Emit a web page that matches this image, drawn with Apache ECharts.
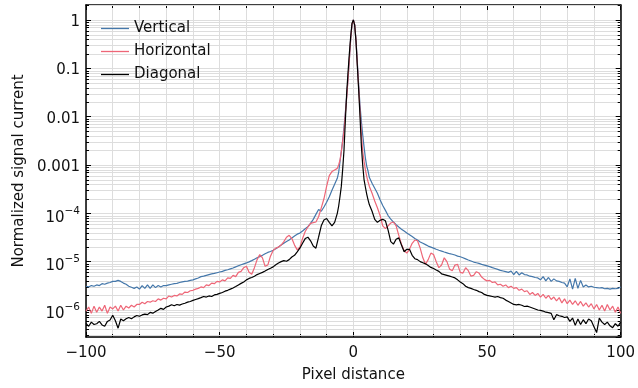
<!DOCTYPE html>
<html><head><meta charset="utf-8">
<script src="https://cdn.jsdelivr.net/npm/echarts@6/dist/echarts.min.js"></script>
<style>html,body{margin:0;padding:0;background:#fff}#c{width:638px;height:388px}</style>
</head><body><div id="c"></div>
<script>
// x positions (pixel distance)
const xs = [-100,-99,-98,-97,-96,-95,-94,-93,-92,-91,-90,-89,-88,-87,-86,-85,-84,-83,-82,-81,
-80,-79,-78,-77,-76,-75,-74,-73,-72,-71,-70,-69,-68,-67,-66,-65,-64,-63,-62,-61,
-60,-59,-58,-57,-56,-55,-54,-53,-52,-51,-50,-49,-48,-47,-46,-45,-44,-43,-42,-41,
-40,-39,-38,-37,-36,-35,-34,-33,-32,-31,-30,-29,-28,-27,-26,-25,-24,-23,-22,-21,
-20,-19,-18,-17,-16,-15,-14,-13,-12,-11,-10,-9,-8,-7,-6,
-5.5,-5,-4.5,-4,-3.5,-3,-2.5,-2,-1.5,-1,-0.5,0,0.5,1,1.5,2,2.5,3,3.5,4,4.5,5,5.5,
6,7,8,9,10,11,12,13,14,15,16,17,18,19,20,21,22,23,24,25,26,27,28,29,30,
31,32,33,34,35,36,37,38,39,40,41,42,43,44,45,46,47,48,49,50,
51,52,53,54,55,56,57,58,59,60,61,62,63,64,65,66,67,68,69,70,
71,72,73,74,75,76,77,78,79,80,81,82,83,84,85,86,87,88,89,90,
91,92,93,94,95,96,97,98,99,100];

const vertical = [
3.1e-6,3.0e-6,3.2e-6,3.1e-6,3.3e-6,3.2e-6,3.5e-6,3.4e-6,3.6e-6,3.7e-6,
3.9e-6,3.9e-6,4.1e-6,3.9e-6,3.6e-6,3.4e-6,3.1e-6,2.95e-6,2.8e-6,3.0e-6,
2.7e-6,3.2e-6,2.8e-6,3.3e-6,2.8e-6,3.3e-6,2.9e-6,3.2e-6,3.0e-6,3.2e-6,
3.2e-6,3.3e-6,3.4e-6,3.5e-6,3.55e-6,3.7e-6,3.8e-6,3.9e-6,3.95e-6,4.1e-6,
4.2e-6,4.4e-6,4.6e-6,4.9e-6,5.0e-6,5.2e-6,5.4e-6,5.6e-6,5.7e-6,5.9e-6,
6.1e-6,6.3e-6,6.6e-6,6.8e-6,7.1e-6,7.4e-6,7.8e-6,8.2e-6,8.6e-6,9.0e-6,
9.4e-6,9.9e-6,1.05e-5,1.12e-5,1.2e-5,1.27e-5,1.35e-5,1.45e-5,1.55e-5,1.62e-5,
1.72e-5,1.85e-5,2.0e-5,2.2e-5,2.4e-5,2.6e-5,2.8e-5,3.1e-5,3.4e-5,3.7e-5,
3.9e-5,4.3e-5,4.8e-5,5.3e-5,6.2e-5,7.5e-5,9.5e-5,1.2e-4,1.1e-4,1.35e-4,
1.7e-4,2.2e-4,3.0e-4,4.0e-4,5.3e-4,
7e-4,1.15e-3,1.9e-3,3.2e-3,6e-3,0.012,0.026,0.06,0.15,0.4,0.82,1.0,0.8,0.38,0.13,0.045,0.017,0.008,0.0042,0.0024,0.0014,9.5e-4,7.5e-4,
5.5e-4,4.2e-4,3.3e-4,2.6e-4,1.9e-4,
1.45e-4,1.15e-4,9.0e-5,7.6e-5,6.6e-5,5.8e-5,5.2e-5,4.7e-5,4.3e-5,3.9e-5,
3.6e-5,3.3e-5,3.0e-5,2.8e-5,2.55e-5,2.4e-5,2.25e-5,2.1e-5,2.0e-5,1.9e-5,
1.8e-5,1.72e-5,1.65e-5,1.58e-5,1.52e-5,1.46e-5,1.42e-5,1.37e-5,1.3e-5,1.26e-5,
1.2e-5,1.14e-5,1.08e-5,1.03e-5,9.8e-6,9.5e-6,9.2e-6,8.8e-6,8.5e-6,8.2e-6,
7.9e-6,7.5e-6,7.2e-6,6.9e-6,6.6e-6,6.4e-6,6.2e-6,6.0e-6,6.4e-6,5.4e-6,
6.3e-6,5.3e-6,5.9e-6,5.4e-6,5.3e-6,5.0e-6,4.9e-6,4.7e-6,4.6e-6,4.2e-6,
4.9e-6,4.0e-6,4.7e-6,3.9e-6,4.4e-6,4.0e-6,3.9e-6,3.7e-6,3.6e-6,3.0e-6,
4.4e-6,2.7e-6,4.5e-6,2.8e-6,4.1e-6,3.0e-6,3.3e-6,3.0e-6,3.1e-6,2.95e-6,
2.9e-6,2.85e-6,2.9e-6,2.75e-6,2.8e-6,2.7e-6,2.8e-6,2.75e-6,2.8e-6,3.0e-6];

const horizontal = [
0.95e-6,1.15e-6,0.85e-6,1.2e-6,0.9e-6,1.15e-6,0.95e-6,1.25e-6,0.85e-6,1.15e-6,
1.05e-6,1.2e-6,0.95e-6,1.25e-6,1.0e-6,1.2e-6,1.1e-6,1.25e-6,1.15e-6,1.3e-6,
1.3e-6,1.45e-6,1.35e-6,1.5e-6,1.45e-6,1.55e-6,1.5e-6,1.7e-6,1.6e-6,1.75e-6,
1.7e-6,1.95e-6,1.85e-6,2.0e-6,1.95e-6,2.15e-6,2.1e-6,2.35e-6,2.3e-6,2.5e-6,
2.55e-6,2.7e-6,2.8e-6,3.0e-6,2.9e-6,3.3e-6,3.2e-6,3.6e-6,3.5e-6,3.9e-6,
3.8e-6,4.2e-6,4.0e-6,4.6e-6,4.5e-6,5.2e-6,4.9e-6,6.0e-6,6.3e-6,7.5e-6,
8.0e-6,6.0e-6,5.5e-6,7.5e-6,1.1e-5,1.4e-5,1.2e-5,8.0e-6,8.5e-6,1.3e-5,
1.7e-5,1.9e-5,2.0e-5,2.2e-5,2.6e-5,3.2e-5,3.5e-5,3.0e-5,2.2e-5,1.75e-5,
2.0e-5,3.0e-5,4.2e-5,5.2e-5,6.2e-5,6.4e-5,6.6e-5,8.5e-5,1.3e-4,2.0e-4,
3.6e-4,6.0e-4,7.3e-4,7.9e-4,8.5e-4,
1.0e-3,1.25e-3,1.9e-3,3.1e-3,5e-3,0.011,0.024,0.058,0.15,0.4,0.82,1.0,0.8,0.38,0.12,0.04,0.013,0.0045,0.0019,0.0012,8e-4,5.8e-4,4.5e-4,
3.6e-4,2.6e-4,1.8e-4,1.3e-4,9.0e-5,
5.5e-5,4.8e-5,5.5e-5,6.3e-5,6.6e-5,5.5e-5,3.5e-5,2.3e-5,1.7e-5,1.5e-5,
1.8e-5,2.4e-5,2.8e-5,2.7e-5,1.9e-5,1.2e-5,8.8e-6,1.1e-5,1.5e-5,1.4e-5,
1.0e-5,7.5e-6,8.5e-6,1.2e-5,1.0e-5,7.0e-6,6.5e-6,8.5e-6,8.8e-6,6.0e-6,
5.8e-6,7.5e-6,6.5e-6,5.0e-6,5.2e-6,6.2e-6,5.8e-6,4.8e-6,4.3e-6,4.0e-6,
4.1e-6,3.7e-6,3.8e-6,3.3e-6,3.4e-6,3.1e-6,3.3e-6,2.9e-6,3.1e-6,2.8e-6,
2.9e-6,2.55e-6,2.7e-6,2.4e-6,2.5e-6,2.1e-6,2.3e-6,2.0e-6,2.2e-6,1.85e-6,
2.1e-6,1.75e-6,2.0e-6,1.65e-6,1.85e-6,1.55e-6,1.8e-6,1.4e-6,1.7e-6,1.35e-6,
1.6e-6,1.3e-6,1.55e-6,1.25e-6,1.5e-6,1.2e-6,1.4e-6,1.15e-6,1.35e-6,1.05e-6,
1.3e-6,1.0e-6,1.25e-6,0.95e-6,1.3e-6,1.0e-6,1.2e-6,0.9e-6,1.15e-6,0.85e-6];

const diagonal = [
5.3e-7,4.6e-7,5.6e-7,5.0e-7,5.2e-7,5.8e-7,4.9e-7,4.6e-7,5.8e-7,6.2e-7,
7.8e-7,6.0e-7,4.2e-7,6.5e-7,6.0e-7,6.6e-7,7.0e-7,6.6e-7,7.2e-7,7.7e-7,
7.4e-7,7.9e-7,8.2e-7,8.0e-7,8.9e-7,8.6e-7,9.3e-7,1.0e-6,1.08e-6,1.03e-6,
1.15e-6,1.2e-6,1.28e-6,1.22e-6,1.3e-6,1.26e-6,1.33e-6,1.38e-6,1.45e-6,1.5e-6,
1.58e-6,1.65e-6,1.72e-6,1.8e-6,1.9e-6,1.85e-6,1.95e-6,1.9e-6,2.05e-6,2.1e-6,
2.2e-6,2.3e-6,2.45e-6,2.55e-6,2.7e-6,2.85e-6,3.05e-6,3.3e-6,3.55e-6,3.8e-6,
4.2e-6,4.5e-6,4.7e-6,5.0e-6,5.4e-6,5.7e-6,6.0e-6,6.4e-6,6.9e-6,7.3e-6,
7.8e-6,8.6e-6,9.4e-6,1.0e-5,1.05e-5,1.02e-5,1.1e-5,1.25e-5,1.35e-5,1.6e-5,
1.9e-5,2.4e-5,3.0e-5,3.2e-5,2.7e-5,2.1e-5,1.9e-5,3.2e-5,5.5e-5,7.3e-5,
7.8e-5,6.5e-5,5.5e-5,6.5e-5,1.0e-4,
1.4e-4,2.2e-4,3.6e-4,8e-4,2e-3,8e-3,0.03,0.08,0.2,0.45,0.85,1.0,0.78,0.36,0.11,0.035,0.01,0.0025,0.001,5e-4,3.5e-4,2.5e-4,1.9e-4,
1.5e-4,1.1e-4,7.5e-5,6.5e-5,7.2e-5,
7.5e-5,7.0e-5,4.5e-5,2.6e-5,2.3e-5,2.9e-5,3.1e-5,2.2e-5,1.6e-5,1.8e-5,
1.8e-5,1.35e-5,1.15e-5,1.1e-5,1.0e-5,9.5e-6,9.0e-6,8.3e-6,7.6e-6,7.2e-6,
6.7e-6,6.3e-6,5.6e-6,5.4e-6,5.2e-6,5.0e-6,4.8e-6,4.6e-6,4.2e-6,3.8e-6,
3.5e-6,3.1e-6,2.9e-6,2.8e-6,2.65e-6,2.55e-6,2.4e-6,2.3e-6,2.1e-6,2.0e-6,
1.95e-6,1.9e-6,1.85e-6,1.9e-6,1.8e-6,1.75e-6,1.6e-6,1.5e-6,1.4e-6,1.3e-6,
1.28e-6,1.3e-6,1.25e-6,1.18e-6,1.2e-6,1.15e-6,1.1e-6,1.05e-6,1.0e-6,9.8e-7,
9.5e-7,9.0e-7,8.8e-7,8.5e-7,6.3e-7,8.0e-7,7.6e-7,7.4e-7,7.0e-7,7.2e-7,
5.8e-7,6.8e-7,4.8e-7,6.5e-7,5.0e-7,6.3e-7,5.2e-7,6.5e-7,6.0e-7,4.5e-7,
3.4e-7,6.8e-7,5.6e-7,5.0e-7,5.6e-7,4.7e-7,4.3e-7,5.2e-7,4.6e-7,5.6e-7];

// minor tick positions of the log axis (2..9 × decade)
const minorYTicks = [3e-7,4e-7,5e-7,6e-7,7e-7,8e-7,9e-7,
2e-6,3e-6,4e-6,5e-6,6e-6,7e-6,8e-6,9e-6,
2e-5,3e-5,4e-5,5e-5,6e-5,7e-5,8e-5,9e-5,
2e-4,3e-4,4e-4,5e-4,6e-4,7e-4,8e-4,9e-4,
2e-3,3e-3,4e-3,5e-3,6e-3,7e-3,8e-3,9e-3,
0.02,0.03,0.04,0.05,0.06,0.07,0.08,0.09,
0.2,0.3,0.4,0.5,0.6,0.7,0.8,0.9,2];

const decadeLabels = {'0':'1','-1':'0.1','-2':'0.01','-3':'0.001'};
const seriesNames = ['Vertical','Horizontal','Diagonal'];
const seriesColors = ['#4477aa','#ee6677','#000000'];

const FONT = 'DejaVu Sans';
const GRIDC = '#dddddd';
const TXT = '#111';
const YMIN = 2.76e-7, YMAX = 2.04;

function yLabel(v){
  const l = Math.log10(v), e = Math.round(l);
  if (Math.abs(l - e) > 1e-6) return '';
  if (decadeLabels[String(e)] !== undefined) return decadeLabels[String(e)];
  return '{b|10}{s|\u2212' + (-e) + '}';
}
function xLabel(v){ return v < 0 ? '\u2212' + (-v) : String(v); }

const baseX = {
  type:'value', min:-100, max:100, interval:50,
  axisLine:{show:true, onZero:false, lineStyle:{color:'#000', width:1.5}},
  axisTick:{show:true, inside:true, length:5, lineStyle:{color:'#000', width:1}},
  minorTick:{show:true, splitNumber:5, length:3, lineStyle:{color:'#000', width:1}},
};
const baseY = {
  type:'log', logBase:10, min:YMIN, max:YMAX,
  axisLine:{show:true, onZero:false, lineStyle:{color:'#000', width:1.5}},
  axisTick:{show:true, inside:true, length:5, lineStyle:{color:'#000', width:1}},
};

const chart = echarts.init(document.getElementById('c'), null, {renderer:'canvas'});
chart.setOption({
  animation:false,
  backgroundColor:'#fff',
  grid:{left:86, right:15, top:5, bottom:51, containLabel:false},
  legend:{
    data:seriesNames.map(n => ({name:n, icon:'rect'})),
    orient:'vertical', left:101, top:21, padding:0, itemWidth:28, itemHeight:1.3, itemGap:8,
    textStyle:{fontFamily:FONT, fontSize:15, color:TXT}
  },
  xAxis:[
    Object.assign({}, baseX, {
      position:'bottom',
      splitLine:{show:true, lineStyle:{color:GRIDC, width:1}},
      minorSplitLine:{show:true, lineStyle:{color:GRIDC, width:1}},
      axisLabel:{formatter:xLabel, fontFamily:FONT, fontSize:15, color:TXT, margin:9},
      name:'Pixel distance', nameLocation:'middle', nameGap:31,
      nameTextStyle:{fontFamily:FONT, fontSize:15, color:TXT}
    }),
    Object.assign({}, baseX, {position:'top', axisLabel:{show:false}, splitLine:{show:false}})
  ],
  yAxis:[
    Object.assign({}, baseY, {
      position:'left',
      splitLine:{show:true, lineStyle:{color:GRIDC, width:1}},
      axisLabel:{formatter:yLabel, showMinLabel:false, showMaxLabel:false, fontFamily:FONT, fontSize:15, color:TXT, margin:6,
        padding:[4,0,0,0],
        rich:{b:{fontFamily:FONT, fontSize:15, color:TXT, lineHeight:20, verticalAlign:'bottom'},
              s:{fontFamily:FONT, fontSize:10.5, color:TXT, lineHeight:14, verticalAlign:'top'}}},
      name:'Normalized signal current', nameLocation:'middle', nameGap:57,
      nameTextStyle:{fontFamily:FONT, fontSize:15, color:TXT}
    }),
    Object.assign({}, baseY, {position:'right', axisLabel:{show:false}, splitLine:{show:false}})
  ],
  series:[
    {
      type:'custom', name:'minor', silent:true, z:1, xAxisIndex:0, yAxisIndex:0,
      data:minorYTicks.map(v => [0, v]),
      renderItem:function(params, api){
        const v = api.value(1);
        const a = api.coord([-100, v]), b = api.coord([100, v]);
        const y = Math.round(a[1]) + 0.5;
        return {type:'group', children:[
          {type:'line', shape:{x1:a[0], y1:y, x2:b[0], y2:y}, style:{stroke:GRIDC, lineWidth:1}},
          {type:'line', shape:{x1:a[0], y1:y, x2:a[0]+3, y2:y}, style:{stroke:'#000', lineWidth:1}},
          {type:'line', shape:{x1:b[0]-3, y1:y, x2:b[0], y2:y}, style:{stroke:'#000', lineWidth:1}}
        ]};
      }
    }
  ].concat([vertical, horizontal, diagonal].map((arr, k) => ({
    type:'line', name:seriesNames[k], z:3 + k, symbol:'none', showSymbol:false,
    data:xs.map((x, i) => [x, arr[i]]),
    lineStyle:{color:seriesColors[k], width:1.2}, itemStyle:{color:seriesColors[k]}
  })))
});
</script></body></html>
